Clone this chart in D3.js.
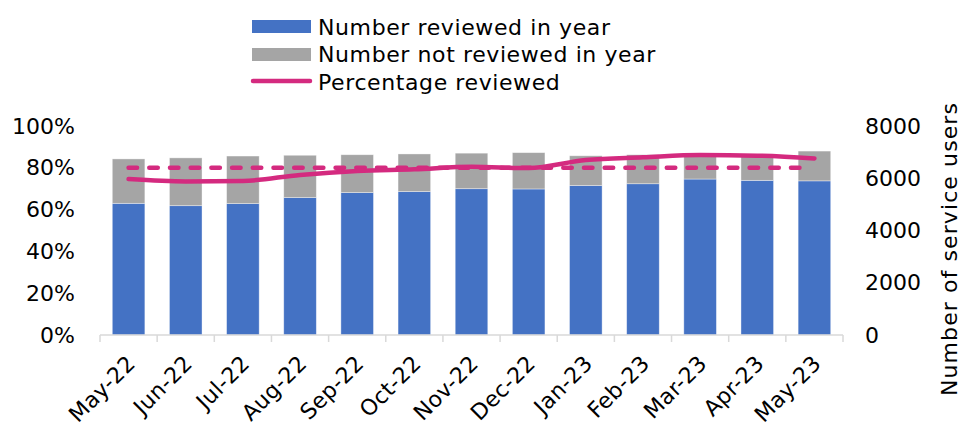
<!DOCTYPE html>
<html>
<head>
<meta charset="utf-8">
<script src="https://cdn.jsdelivr.net/npm/d3@7"></script>
<style>
  body { margin: 0; background: #fff; }
  #svgOutput svg { display: block; }
</style>
</head>
<body>
<div id="svgOutput"></div>
<script>
// data
const months = ["May-22", "Jun-22", "Jul-22", "Aug-22", "Sep-22", "Oct-22", "Nov-22",
  "Dec-22", "Jan-23", "Feb-23", "Mar-23", "Apr-23", "May-23"];
const reviewed = [5040, 4950, 5030, 5260, 5450, 5490, 5600, 5590, 5720, 5790, 5970, 5920, 5900];
const notReviewed = [1700, 1830, 1820, 1620, 1450, 1440, 1360, 1390, 1140, 1110, 980, 1000, 1140];
const pctReviewed = [0.746, 0.735, 0.737, 0.766, 0.785, 0.793, 0.805, 0.799, 0.837, 0.850, 0.861, 0.858, 0.845];
const target = 0.8;
const pctTicks = [0, 0.2, 0.4, 0.6, 0.8, 1];
const countTicks = [0, 2000, 4000, 6000, 8000];

// config
const width = 961;
const height = 428;
const margin = { top: 126, bottom: 93, left: 100, right: 118 };
const font = "'DejaVu Sans', Verdana, sans-serif";
const blue = "#4472c4", grey = "#a5a5a5", pink = "#d42a7f";

const rows = months.map((m, i) => ({
  month: m,
  reviewed: reviewed[i],
  notReviewed: notReviewed[i],
  pct: pctReviewed[i]
}));

// scales
const xScale = d3.scaleBand()
  .domain(months)
  .range([margin.left, width - margin.right])
  .paddingInner(0.43)
  .paddingOuter(0.215);

const yPct = d3.scaleLinear()
  .domain([0, 1])
  .range([height - margin.bottom, margin.top]);

const yCount = d3.scaleLinear()
  .domain([0, 8000])
  .range([height - margin.bottom, margin.top]);

const svg = d3.select("#svgOutput")
  .append("svg")
  .attr("width", width)
  .attr("height", height)
  .style("font-family", font);

// stacked bars
const stack = d3.stack().keys(["reviewed", "notReviewed"])(rows);
const colours = { reviewed: blue, notReviewed: grey };

svg.append("g")
  .selectAll("g")
  .data(stack)
  .join("g")
  .attr("fill", d => colours[d.key])
  .selectAll("rect")
  .data(d => d)
  .join("rect")
  .attr("x", d => xScale(d.data.month))
  .attr("y", d => yCount(d[1]))
  .attr("width", xScale.bandwidth())
  .attr("height", d => yCount(d[0]) - yCount(d[1]))
  .attr("stroke", "#ffffff")
  .attr("stroke-opacity", 0.5)
  .attr("stroke-width", 0.75);

// x axis: baseline and boundary ticks
const y0 = height - margin.bottom;
const step = xScale.step();
const edges = d3.range(months.length + 1).map(i => margin.left + i * step);

svg.append("line")
  .attr("x1", margin.left).attr("x2", width - margin.right)
  .attr("y1", y0).attr("y2", y0)
  .attr("stroke", "#d9d9d9").attr("stroke-width", 1.5);

svg.selectAll("line.edge")
  .data(edges)
  .join("line")
  .attr("class", "edge")
  .attr("x1", d => d).attr("x2", d => d)
  .attr("y1", y0).attr("y2", y0 + 7)
  .attr("stroke", "#d9d9d9").attr("stroke-width", 1.5);

svg.selectAll("text.month")
  .data(months)
  .join("text")
  .attr("class", "month")
  .attr("transform", d => `translate(${xScale(d) + xScale.bandwidth() / 2 + 8},${y0 + 30}) rotate(-45)`)
  .attr("text-anchor", "end")
  .style("font-size", "22px")
  .style("letter-spacing", "0.3px")
  .attr("fill", "#000")
  .text(d => d);

// left axis
const yAxisLeft = d3.axisLeft(yPct)
  .tickValues(pctTicks)
  .tickFormat(d3.format(".0%"))
  .tickSize(0)
  .tickPadding(0);

svg.append("g")
  .attr("transform", `translate(${margin.left - 25},0)`)
  .call(yAxisLeft)
  .call(g => g.select(".domain").remove())
  .call(g => g.selectAll(".tick text")
    .attr("fill", "#000")
    .style("font-family", font)
    .style("font-size", "22px"));

// right axis
const yAxisRight = d3.axisRight(yCount)
  .tickValues(countTicks)
  .tickFormat(d3.format("d"))
  .tickSize(0)
  .tickPadding(0);

svg.append("g")
  .attr("transform", `translate(${width - margin.right + 22},0)`)
  .call(yAxisRight)
  .call(g => g.select(".domain").remove())
  .call(g => g.selectAll(".tick text")
    .attr("fill", "#000")
    .style("font-family", font)
    .style("font-size", "22px"));

svg.append("text")
  .attr("transform", `translate(${width + 1},249) rotate(-90)`)
  .attr("text-anchor", "middle")
  .attr("dy", "-0.25em")
  .style("font-size", "22px")
  .style("letter-spacing", "1.1px")
  .attr("fill", "#000")
  .text("Number of service users");

// target dashed line
const cx = d => xScale(d) + xScale.bandwidth() / 2;

svg.append("line")
  .attr("x1", cx(months[0]))
  .attr("x2", cx(months[months.length - 1]) - 8)
  .attr("y1", yPct(target))
  .attr("y2", yPct(target))
  .attr("stroke", pink)
  .attr("stroke-width", 4.5)
  .attr("stroke-linecap", "round")
  .attr("stroke-dasharray", "8.5 12.2");

// percentage line
const line = d3.line()
  .x(d => cx(d.month))
  .y(d => yPct(d.pct))
  .curve(d3.curveMonotoneX);

svg.append("path")
  .attr("d", line(rows))
  .attr("fill", "none")
  .attr("stroke", pink)
  .attr("stroke-width", 4.5)
  .attr("stroke-linecap", "round")
  .attr("stroke-linejoin", "round");

// legend
const legend = svg.append("g").attr("transform", "translate(252,0)");

legend.append("rect")
  .attr("x", 0).attr("y", 20).attr("width", 59).attr("height", 13)
  .attr("fill", blue);
legend.append("rect")
  .attr("x", 0).attr("y", 48).attr("width", 59).attr("height", 13)
  .attr("fill", grey);
legend.append("line")
  .attr("x1", 1).attr("x2", 58).attr("y1", 81).attr("y2", 81)
  .attr("stroke", pink).attr("stroke-width", 4.5).attr("stroke-linecap", "round");

const legendLabels = ["Number reviewed in year", "Number not reviewed in year", "Percentage reviewed"];
legend.selectAll("text")
  .data(legendLabels)
  .join("text")
  .attr("x", 66)
  .attr("y", (d, i) => 27 + i * 27.5)
  .attr("dy", "0.35em")
  .style("font-size", "22px")
  .style("letter-spacing", "0.6px")
  .attr("fill", "#000")
  .text(d => d);
</script>
</body>
</html>
